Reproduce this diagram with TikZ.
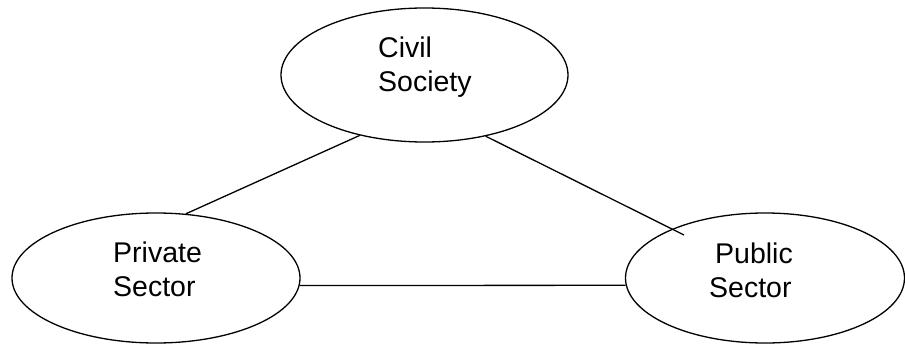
\documentclass[tikz,border=0pt]{standalone}
\usepackage{fontspec}
\setmainfont{Liberation Sans}
\usetikzlibrary{shapes.geometric}
\begin{document}
\begin{tikzpicture}[x=1pt,y=-1pt,
  oval/.style={draw,ellipse,line width=1.3pt,inner sep=0pt},
  txt/.style={anchor=base west,inner sep=0pt,font=\fontsize{28.5pt}{34pt}\selectfont},
  link/.style={draw,line width=1.3pt}]
\useasboundingbox (0,0) rectangle (905,345);
\node[oval,minimum width=287pt,minimum height=134pt] (civ) at (424.5,75) {};
\node[oval,minimum width=288pt,minimum height=130pt] (priv) at (156,278) {};
\node[oval,minimum width=279pt,minimum height=130pt] (pub) at (765,278) {};
\node[txt] (t1) at (378,58) {Civil};
\node[txt] (t2) at (378,92) {Society};
\node[txt] (t3) at (113,262) {Private};
\node[txt] (t4) at (113,296) {Sector};
\node[txt] (t5) at (715,263) {Public};
\node[txt] (t6) at (709,297) {Sector};
\coordinate (pubin) at (684,235);
\draw[link] (civ.223.5) -- (priv.65.6);
\draw[link] (civ.315) -- (pubin);
\draw[link] (priv.-3.6) -- (pub.183.7);
\end{tikzpicture}
\end{document}
